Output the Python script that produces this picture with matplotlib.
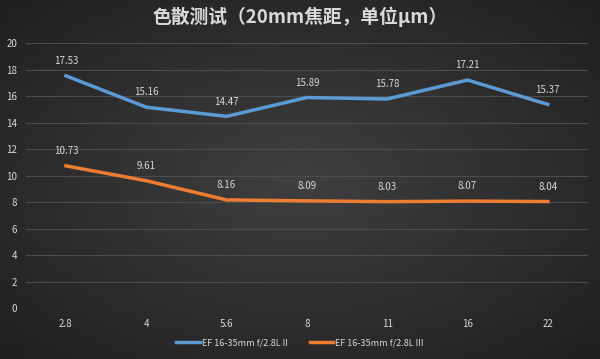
import numpy as np
import matplotlib.pyplot as plt

plt.rcParams['font.family'] = ['Noto Sans CJK SC', 'DejaVu Sans']

# data
apertures = ['2.8', '4', '5.6', '8', '11', '16', '22']
lens_ii = [17.53, 15.16, 14.47, 15.89, 15.78, 17.21, 15.37]
lens_iii = [10.73, 9.61, 8.16, 8.09, 8.03, 8.07, 8.04]
series_names = ['EF 16-35mm f/2.8L II', 'EF 16-35mm f/2.8L III']
title = '色散测试（20mm焦距，单位μm）'

txt_col = '#d9d9d9'
fig = plt.figure(figsize=(6, 3.59), dpi=100)

# radial dark background
bg = fig.add_axes([0, 0, 1, 1])
gx, gy = np.meshgrid(np.linspace(-1, 1, 300), np.linspace(-1, 1, 180))
r = np.sqrt(gx**2 + gy**2)
bg.imshow(0.25 - 0.09 * r, cmap='gray', vmin=0, vmax=1, aspect='auto',
          extent=[0, 1, 0, 1])
bg.axis('off')

ax = fig.add_axes([0.043, 0.142, 0.937, 0.738])
ax.patch.set_alpha(0)
x = np.arange(len(apertures))
ax.plot(x, lens_ii, color='#5B9BD5', lw=2.5, label=series_names[0])
ax.plot(x, lens_iii, color='#ED7D31', lw=2.5, label=series_names[1])
for xi, v in zip(x, lens_ii):
    ax.annotate(f'{v:.2f}', (xi, v), xytext=(0, 7), textcoords='offset points',
                ha='center', va='bottom', color=txt_col, fontsize=7)
for xi, v in zip(x, lens_iii):
    ax.annotate(f'{v:.2f}', (xi, v), xytext=(0, 7), textcoords='offset points',
                ha='center', va='bottom', color=txt_col, fontsize=7)

ax.set_xlim(-0.5, len(apertures) - 0.5)
ax.set_ylim(0, 20)
ax.set_yticks(range(0, 21, 2))
ax.set_xticks(x)
ax.set_xticklabels(apertures)
ax.grid(axis='y', color='#4d4d4d', lw=0.8)
ax.set_axisbelow(True)
for s in ax.spines.values():
    s.set_visible(False)
ax.tick_params(length=0, colors=txt_col, labelsize=7)
ax.tick_params(axis='y', pad=6)
ax.tick_params(axis='x', pad=8)

fig.text(0.5, 0.952, title, ha='center', va='center', color=txt_col,
         fontsize=13.5, fontweight='bold')
fig.legend(loc='center', bbox_to_anchor=(0.5, 0.045), ncol=2, frameon=False,
           fontsize=6.5, labelcolor=txt_col, handlelength=2.6,
           handletextpad=0.2, columnspacing=2.5)

fig.savefig('out.png', dpi=100)
